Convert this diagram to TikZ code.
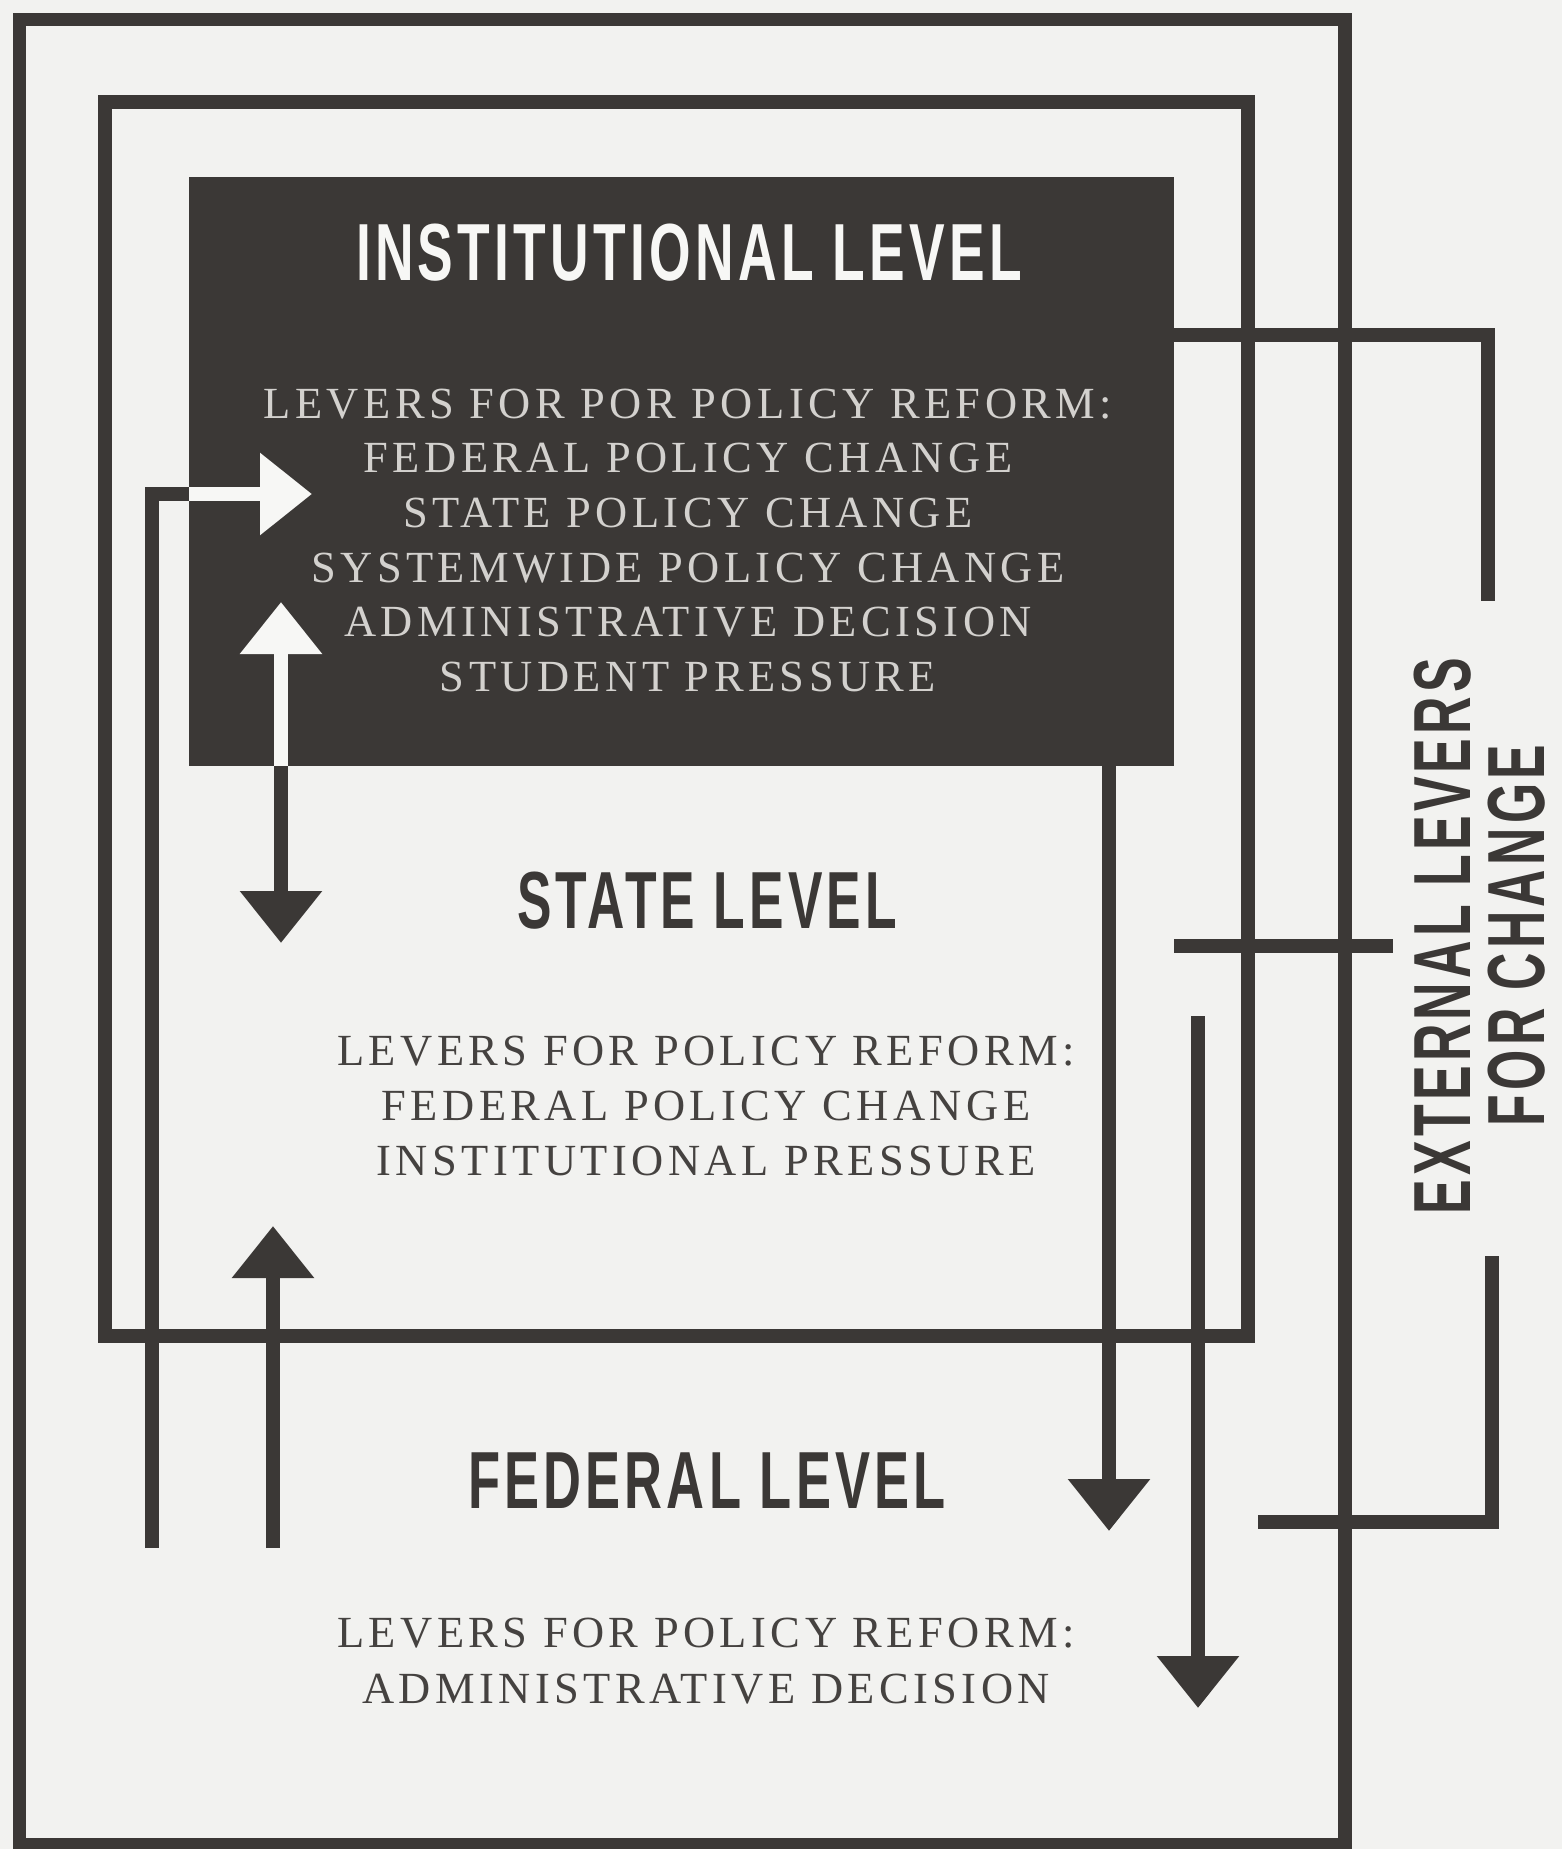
\documentclass[tikz,border=0pt]{standalone}
\usepackage{fontspec}
\usepackage{graphicx}
\usetikzlibrary{arrows.meta}
\setmainfont{Liberation Serif}
\newfontfamily\leverfont[LetterSpace=10]{Liberation Serif}
\newfontfamily\headfont[LetterSpace=8]{Liberation Sans}
\definecolor{ink}{HTML}{3B3836}
\definecolor{paper}{HTML}{F2F2F0}
\definecolor{pale}{HTML}{D3D1CE}
\definecolor{bodytext}{HTML}{454240}
\definecolor{titlewhite}{HTML}{F7F7F5}
\tikzset{
  frame/.style={draw=ink, line width=13.5pt, inner sep=0pt, outer sep=0pt},
  bar/.style={draw=ink, line width=13.5pt, line join=miter},
  whitebar/.style={draw=titlewhite, line width=13.5pt},
  tipped/.style={-{Triangle[width=79pt,length=52pt]}},
  lever/.style={font=\leverfont\fontsize{44.5}{44.5}\selectfont, anchor=base, inner sep=0pt, text=bodytext},
  heading/.style={font=\headfont\bfseries\fontsize{81}{81}\selectfont, anchor=base, inner sep=0pt, text=ink},
  sidehead/.style={font=\headfont\bfseries\fontsize{81}{81}\selectfont, anchor=base, inner sep=0pt, text=ink, rotate=90}
}
\begin{document}
\begin{tikzpicture}[x=1pt,y=-1pt]
\useasboundingbox (0,0) rectangle (1562,1849);
\fill[paper] (0,0) rectangle (1562,1849);

% nested levels
\node[frame, minimum width=1325.5pt, minimum height=1825.5pt] (fed) at (682.25,932.25) {};
\node[frame, minimum width=1143pt, minimum height=1234pt] (state) at (676.5,719) {};
\node[fill=ink, inner sep=0pt, outer sep=0pt, minimum width=985pt, minimum height=589pt] (inst) at (681.5,471.5) {};

% connector end points
\coordinate (lfoot) at (152,1548);
\coordinate (lcorner) at (152,494);
\coordinate (ltip) at (312,494);
\coordinate (ufoot) at (273,1548);
\coordinate (utip) at (273,1226);
\coordinate (dup) at (281,602);
\coordinate (ddown) at (281,943);
\coordinate (r1tip) at (1109,1531);
\coordinate (r2top) at (1198,1016);
\coordinate (r2tip) at (1198,1708);
\coordinate (brtop) at (1488,335);
\coordinate (brtopend) at (1488,601);
\coordinate (brmid) at (1393,946);
\coordinate (brlowstart) at (1258,1522);
\coordinate (brlow) at (1492,1522);
\coordinate (brlowend) at (1492,1256);

% arrows from the federal level into the institution
\draw[bar] (lfoot) -- (lcorner) -- (inst.west |- lcorner);
\draw[whitebar, tipped, titlewhite] (inst.west |- lcorner) -- (ltip);
\draw[bar, tipped] (ufoot) -- (utip);

% two-way arrow between institution and state
\draw[whitebar, tipped, titlewhite] (inst.south -| dup) -- (dup);
\draw[bar, tipped, ink] (inst.south -| ddown) -- (ddown);

% arrows from the institution downward
\draw[bar, tipped, ink] (inst.south -| r1tip) -- (r1tip);
\draw[bar, tipped, ink] (r2top) -- (r2tip);

% bracket of external levers
\draw[bar] (inst.east |- brtop) -- (brtop) -- (brtopend);
\draw[bar] (inst.east |- brmid) -- (brmid);
\draw[bar] (brlowstart) -- (brlow) -- (brlowend);

% headings
\node[heading, text=titlewhite] (insttitle) at (689,280) {\resizebox{666pt}{\height}{INSTITUTIONAL LEVEL}};
\node[heading] (statetitle) at (707,928) {\resizebox{380pt}{\height}{STATE LEVEL}};
\node[heading] (fedtitle) at (707,1508) {\resizebox{478pt}{\height}{FEDERAL LEVEL}};
\node[sidehead] (ext1) at (1470,936) {\resizebox{556pt}{\height}{EXTERNAL LEVERS}};
\node[sidehead] (ext2) at (1544,935.5) {\resizebox{381pt}{\height}{FOR CHANGE}};

% levers at each level
\foreach \txt [count=\k] in {LEVERS FOR POR POLICY REFORM:, FEDERAL POLICY CHANGE, STATE POLICY CHANGE, SYSTEMWIDE POLICY CHANGE, ADMINISTRATIVE DECISION, STUDENT PRESSURE}
  \node[lever, text=pale] (instlever\k) at (688,{418+54.7*(\k-1)}) {\txt};
\foreach \txt [count=\k] in {LEVERS FOR POLICY REFORM:, FEDERAL POLICY CHANGE, INSTITUTIONAL PRESSURE}
  \node[lever] (statelever\k) at (706,{1065+55*(\k-1)}) {\txt};
\foreach \txt [count=\k] in {LEVERS FOR POLICY REFORM:, ADMINISTRATIVE DECISION}
  \node[lever] (fedlever\k) at (706,{1647+56*(\k-1)}) {\txt};
\end{tikzpicture}
\end{document}
